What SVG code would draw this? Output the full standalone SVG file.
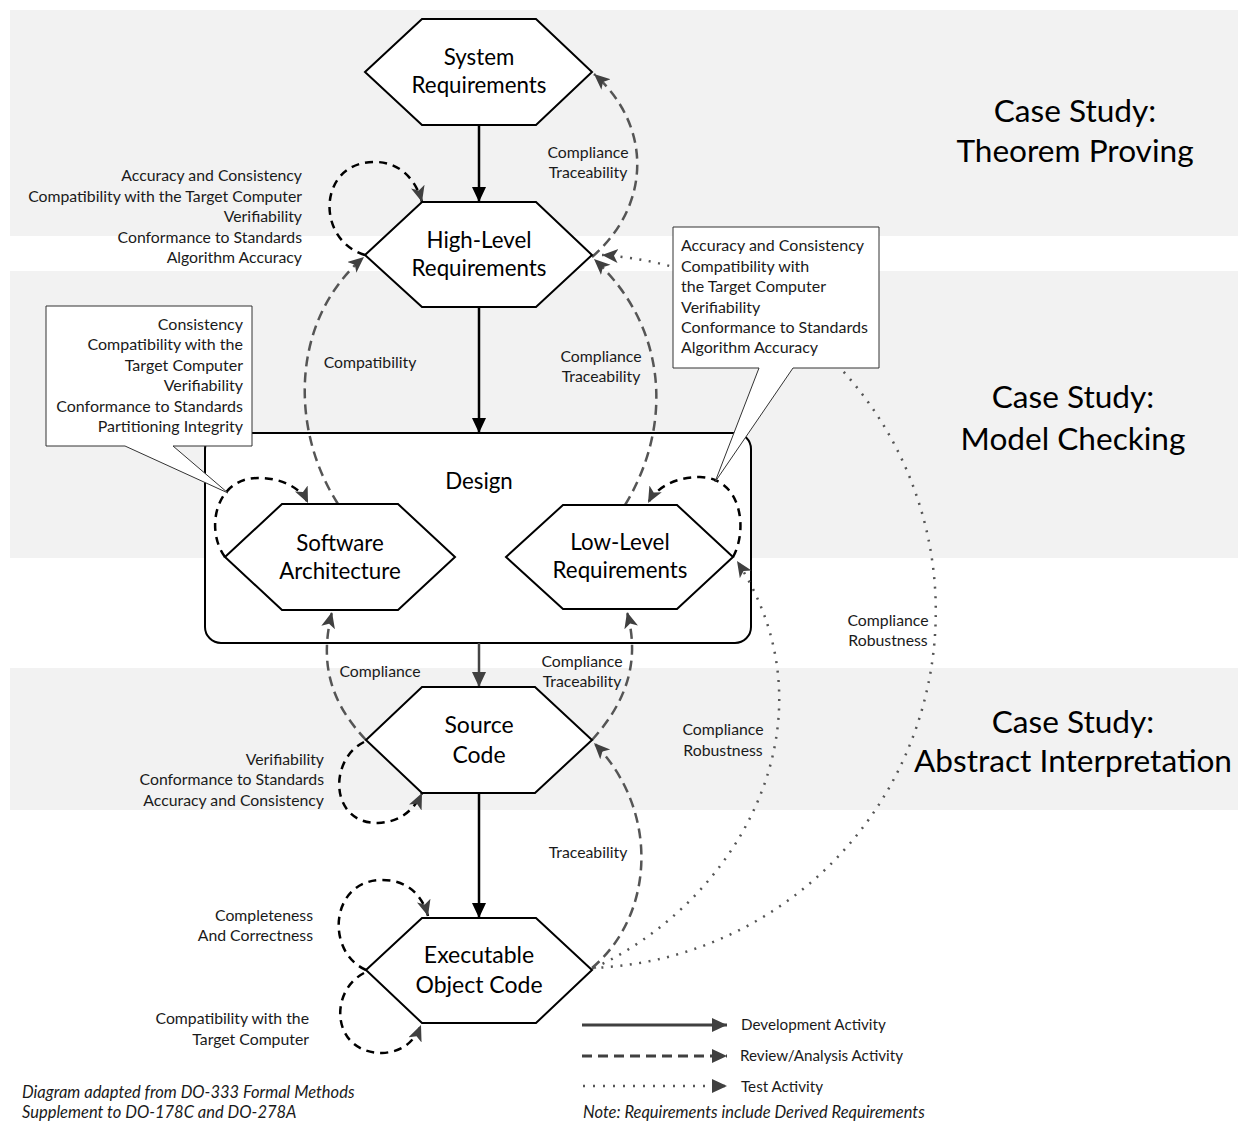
<svg xmlns="http://www.w3.org/2000/svg" width="1238" height="1124" viewBox="0 0 1238 1124">
<defs>
<style>
text{font-family:Lato,"Liberation Sans",sans-serif;fill:#1a1a1a}
.hx{fill:#fff;stroke:#000;stroke-width:2}
.nt{font-size:22.3px;text-anchor:middle;fill:#000}
.nb{font-size:23px;text-anchor:middle;fill:#000}
.lb{font-size:15.8px}
.cl{font-size:16px}
.lg{font-size:15.2px}
.c{text-anchor:middle}
.r{text-anchor:end}
.tt{font-size:31.6px;text-anchor:middle;fill:#000}
.it{font-size:16.5px;font-style:italic}
.dev{fill:none;stroke:#000;stroke-width:2.5}
.rev{fill:none;stroke:#555;stroke-width:2.5;stroke-dasharray:10 6}
.loop{fill:none;stroke:#000;stroke-width:2.5;stroke-dasharray:8 6}
.tst{fill:none;stroke:#555;stroke-width:2.5;stroke-dasharray:2 7.5}
.band{fill:#f2f2f2}
.call{fill:#fff;stroke:#333;stroke-width:1}
</style>
<marker id="ad" markerUnits="userSpaceOnUse" markerWidth="16" markerHeight="16" refX="15" refY="7" orient="auto"><path d="M0,0 L15,7 L0,14 z" fill="#000"/></marker>
<marker id="adg" markerUnits="userSpaceOnUse" markerWidth="16" markerHeight="16" refX="15" refY="7" orient="auto"><path d="M0,0 L15,7 L0,14 z" fill="#404040"/></marker>
<marker id="ar" markerUnits="userSpaceOnUse" markerWidth="18" markerHeight="16" refX="16" refY="7" orient="auto"><path d="M0,0 L16,7 L0,14 L4,7 z" fill="#404040"/></marker>
</defs>

<g id="bands">
<rect class="band" x="10" y="10" width="1228" height="226"/>
<rect class="band" x="10" y="271" width="1228" height="287"/>
<rect class="band" x="10" y="668" width="1228" height="142"/>
</g>

<g id="titles">
<text class="tt" x="1075" y="122">Case Study:</text>
<text class="tt" x="1075" y="162">Theorem Proving</text>
<text class="tt" x="1073" y="408">Case Study:</text>
<text class="tt" x="1073" y="450">Model Checking</text>
<text class="tt" x="1073" y="733">Case Study:</text>
<text class="tt" x="1073" y="772">Abstract Interpretation</text>
</g>

<g id="design">
<rect x="205" y="433" width="546" height="210" rx="16" fill="#fff" stroke="#000" stroke-width="2"/>
<text class="nt" x="479" y="489">Design</text>
</g>

<g id="connectors">
<!-- development -->
<line class="dev" x1="479" y1="125" x2="479" y2="202" marker-end="url(#ad)"/>
<line class="dev" x1="479" y1="307" x2="479" y2="433" marker-end="url(#ad)"/>
<line class="dev" x1="479" y1="643" x2="479" y2="687" marker-end="url(#adg)" style="stroke:#444"/>
<line class="dev" x1="479" y1="793" x2="479" y2="918" marker-end="url(#ad)"/>
<!-- review arcs -->
<path class="rev" d="M592,257 C652,205 652,125 594,74" marker-end="url(#ar)"/>
<path class="rev" d="M338,504 C290,430 290,320 364,257" marker-end="url(#ar)"/>
<path class="rev" d="M625,505 C671,430 671,330 594,259" marker-end="url(#ar)"/>
<path class="rev" d="M366,740 C328,700 320,660 332,612" marker-end="url(#ar)"/>
<path class="rev" d="M592,740 C628,700 640,660 627,612" marker-end="url(#ar)"/>
<path class="rev" d="M592,968 C655,915 660,810 594,743" marker-end="url(#ar)"/>
<!-- review self loops -->
<path class="loop" d="M365,255 C315,240 318,163 373,162 C400,161 416,180 422,202" marker-end="url(#ar)"/>
<path class="loop" d="M225,557 C205,530 215,478 258,478 C285,478 302,490 308,503" marker-end="url(#ar)"/>
<path class="loop" d="M733,557 C748,530 742,478 700,477 C672,477 655,490 648,503" marker-end="url(#ar)"/>
<path class="loop" d="M364,742 C328,760 330,824 378,823 C402,822 415,808 422,793" marker-end="url(#ar)"/>
<path class="loop" d="M366,970 C325,952 330,880 382,880 C410,880 423,898 428,916" marker-end="url(#ar)"/>
<path class="loop" d="M364,973 C328,992 332,1053 382,1053 C404,1052 415,1040 421,1025" marker-end="url(#ar)"/>
<!-- test -->
<path class="tst" d="M594,968 C740,900 840,720 737,561" marker-end="url(#ar)"/>
<path class="tst" d="M592,968 A357,357 0 0 0 602,255" marker-end="url(#ar)"/>
</g>

<g id="callout-left">
<path class="call" d="M46,306 H252 V446 H173 L228,493 L125,446 H46 Z"/>
<text class="cl r" x="243" y="330">Consistency</text>
<text class="cl r" x="243" y="350">Compatibility with the</text>
<text class="cl r" x="243" y="371">Target Computer</text>
<text class="cl r" x="243" y="391">Verifiability</text>
<text class="cl r" x="243" y="412">Conformance to Standards</text>
<text class="cl r" x="243" y="432">Partitioning Integrity</text>
</g>

<g id="callout-right">
<path class="call" d="M673,227 H879 V368 H793 L715,482 L759,368 H673 Z"/>
<text class="cl" x="681" y="251">Accuracy and Consistency</text>
<text class="cl" x="681" y="272">Compatibility with</text>
<text class="cl" x="681" y="292">the Target Computer</text>
<text class="cl" x="681" y="313">Verifiability</text>
<text class="cl" x="681" y="333">Conformance to Standards</text>
<text class="cl" x="681" y="353">Algorithm Accuracy</text>
</g>

<g id="system-requirements">
<polygon class="hx" points="365,72 422,19 536,19 592,72 536,125 422,125"/>
<text class="nt" x="479" y="65">System</text>
<text class="nt" x="479" y="93">Requirements</text>
</g>
<g id="high-level-requirements">
<polygon class="hx" points="365,255 422,202 536,202 592,255 536,307 422,307"/>
<text class="nt" x="479" y="248">High-Level</text>
<text class="nt" x="479" y="276">Requirements</text>
</g>
<g id="software-architecture">
<polygon class="hx" points="225,557 282,504 398,504 455,557 398,610 282,610"/>
<text class="nt" x="340" y="551">Software</text>
<text class="nt" x="340" y="579">Architecture</text>
</g>
<g id="low-level-requirements">
<polygon class="hx" points="506,557 563,505 677,505 733,557 677,609 563,609"/>
<text class="nt" x="620" y="550">Low-Level</text>
<text class="nt" x="620" y="578">Requirements</text>
</g>
<g id="source-code">
<polygon class="hx" points="366,740 422,687 535,687 592,740 535,793 422,793"/>
<text class="nb" x="479" y="733">Source</text>
<text class="nb" x="479" y="763">Code</text>
</g>
<g id="executable-object-code">
<polygon class="hx" points="366,970 422,918 536,918 592,970 536,1023 422,1023"/>
<text class="nb" x="479" y="963">Executable</text>
<text class="nb" x="479" y="993">Object Code</text>
</g>

<g id="labels">
<text class="lb r" x="302" y="181">Accuracy and Consistency</text>
<text class="lb r" x="302" y="202">Compatibility with the Target Computer</text>
<text class="lb r" x="302" y="222">Verifiability</text>
<text class="lb r" x="302" y="243">Conformance to Standards</text>
<text class="lb r" x="302" y="263">Algorithm Accuracy</text>
<text class="lb c" x="588" y="158">Compliance</text>
<text class="lb c" x="588" y="178">Traceability</text>
<text class="lb c" x="370" y="368">Compatibility</text>
<text class="lb c" x="601" y="362">Compliance</text>
<text class="lb c" x="601" y="382">Traceability</text>
<text class="lb c" x="380" y="677">Compliance</text>
<text class="lb c" x="582" y="667">Compliance</text>
<text class="lb c" x="582" y="687">Traceability</text>
<text class="lb r" x="324" y="765">Verifiability</text>
<text class="lb r" x="324" y="785">Conformance to Standards</text>
<text class="lb r" x="324" y="806">Accuracy and Consistency</text>
<text class="lb c" x="588" y="858">Traceability</text>
<text class="lb r" x="313" y="921">Completeness</text>
<text class="lb r" x="313" y="941">And Correctness</text>
<text class="lb r" x="309" y="1024">Compatibility with the</text>
<text class="lb r" x="309" y="1045">Target Computer</text>
<text class="lb c" x="723" y="735">Compliance</text>
<text class="lb c" x="723" y="756">Robustness</text>
<text class="lb c" x="888" y="626">Compliance</text>
<text class="lb c" x="888" y="646">Robustness</text>
</g>

<g id="legend">
<line x1="582" y1="1025" x2="727" y2="1025" stroke="#404040" stroke-width="3" marker-end="url(#adg)"/>
<line x1="582" y1="1056" x2="727" y2="1056" stroke="#404040" stroke-width="3" stroke-dasharray="10 6" marker-end="url(#adg)"/>
<line x1="583" y1="1086" x2="727" y2="1086" stroke="#555" stroke-width="2.5" stroke-dasharray="2 8" marker-end="url(#adg)"/>
<text class="lg" x="741" y="1030">Development Activity</text>
<text class="lg" x="740" y="1061">Review/Analysis Activity</text>
<text class="lg" x="741" y="1092">Test Activity</text>
<text class="it" x="583" y="1118">Note: Requirements include Derived Requirements</text>
</g>

<g id="footnote">
<text class="it" x="22" y="1098">Diagram adapted from DO-333 Formal Methods</text>
<text class="it" x="22" y="1118">Supplement to DO-178C and DO-278A</text>
</g>
</svg>
